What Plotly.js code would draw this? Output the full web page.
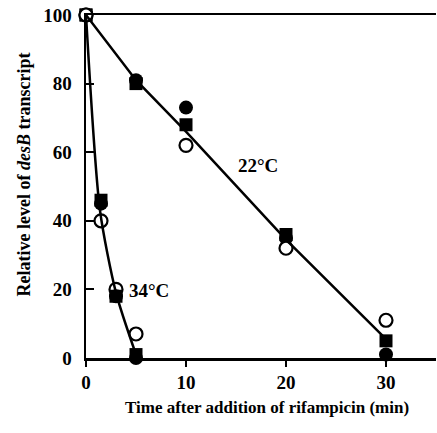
<!DOCTYPE html>
<html>
<head>
<meta charset="utf-8">
<script src="https://cdn.plot.ly/plotly-3.0.1.min.js"></script>
<style>html,body{margin:0;padding:0;background:#fff;}#chart{width:437px;height:433px;}</style>
</head>
<body>
<div id="chart"></div>
<script>
// 22 °C data
const time22 = [0, 5, 10, 20, 30];
const filledCircle22 = [100, 81, 73, 35, 1];
const filledSquare22 = [100, 80, 68, 36, 5];
const openCircle22 = [100, null, 62, 32, 11];
// 34 °C data
const time34 = [0, 1.5, 3, 5];
const filledCircle34 = [100, 45, 18, 0];
const filledSquare34 = [100, 46, 18, 1];
const openCircle34 = [100, 40, 20, 7];
// fitted curves
const fit22x = [0, 5, 10, 20, 30];
const fit22y = [100, 81, 66, 34.5, 5.5];
const fit34x = [0, 1.4, 3, 5];
const fit34y = [100, 43, 19, 1];
// labels
const xTicks = [0, 10, 20, 30];
const yTicks = [0, 20, 40, 60, 80, 100];
const xTitle = 'Time after addition of rifampicin (min)';
const yTitle = 'Relative level of <i>desB</i> transcript';
const curveLabels = [{x: 17.2, y: 56, text: '22°C'}, {x: 6.3, y: 19.8, text: '34°C'}];

const FONT = 'Liberation Serif, Times New Roman, serif';
const line = {color: '#000', width: 2.5};
const filled = (sym, size) => ({symbol: sym, size: size, color: '#000'});
const open = {symbol: 'circle', size: 13, color: '#fff', line: {width: 2.2, color: '#000'}};
const traces = [
  {x: time34, y: openCircle34, mode: 'markers', marker: open, cliponaxis: false},
  {x: time34, y: filledCircle34, mode: 'markers', marker: filled('circle', 14), cliponaxis: false},
  {x: time34, y: filledSquare34, mode: 'markers', marker: filled('square', 13), cliponaxis: false},
  {x: time22, y: filledCircle22, mode: 'markers', marker: filled('circle', 14), cliponaxis: false},
  {x: time22, y: filledSquare22, mode: 'markers', marker: filled('square', 13), cliponaxis: false},
  {x: time22, y: openCircle22, mode: 'markers', marker: open, cliponaxis: false},
  {x: fit22x, y: fit22y, mode: 'lines', line: line, cliponaxis: false},
  {x: fit34x, y: fit34y, mode: 'lines', line: Object.assign({shape: 'spline', smoothing: 0.7}, line), cliponaxis: false}
];

const layout = {
  width: 437, height: 433,
  margin: {l: 86, r: 1, t: 15, b: 75},
  paper_bgcolor: '#fff', plot_bgcolor: '#fff',
  showlegend: false,
  font: {family: FONT, color: '#000', size: 19, weight: 'bold'},
  xaxis: {
    range: [0, 35], tickvals: xTicks, ticktext: xTicks.map(String),
    ticks: 'outside', ticklen: 6, tickwidth: 2, tickcolor: '#000',
    showline: true, linewidth: 2.5, linecolor: '#000', mirror: true,
    showgrid: false, zeroline: false,
    ticklabelstandoff: 0,
    tickfont: {family: FONT, size: 19, weight: 'bold'}
  },
  yaxis: {
    range: [0, 100], tickvals: yTicks, ticktext: yTicks.map(String),
    ticks: 'inside', ticklen: 8, tickwidth: 2, tickcolor: '#000',
    showline: true, linewidth: 2.5, linecolor: '#000',
    showgrid: false, zeroline: false,
    ticklabelstandoff: 8,
    tickfont: {family: FONT, size: 19, weight: 'bold'}
  },
  annotations: curveLabels.map(l => ({x: l.x, y: l.y, text: l.text, showarrow: false, font: {family: FONT, size: 19, weight: 'bold'}})).concat([
    {xref: 'paper', yref: 'paper', x: -0.177, y: 0.535, xanchor: 'center', yanchor: 'middle', textangle: -90,
     text: yTitle, showarrow: false, font: {family: FONT, size: 18, weight: 'bold'}},
    {xref: 'paper', yref: 'paper', x: 0.517, y: -0.143, xanchor: 'center', yanchor: 'middle',
     text: xTitle, showarrow: false, font: {family: FONT, size: 17, weight: 'bold'}}
  ])
};
Plotly.newPlot('chart', traces, layout, {displayModeBar: false, staticPlot: true});
</script>
</body>
</html>
